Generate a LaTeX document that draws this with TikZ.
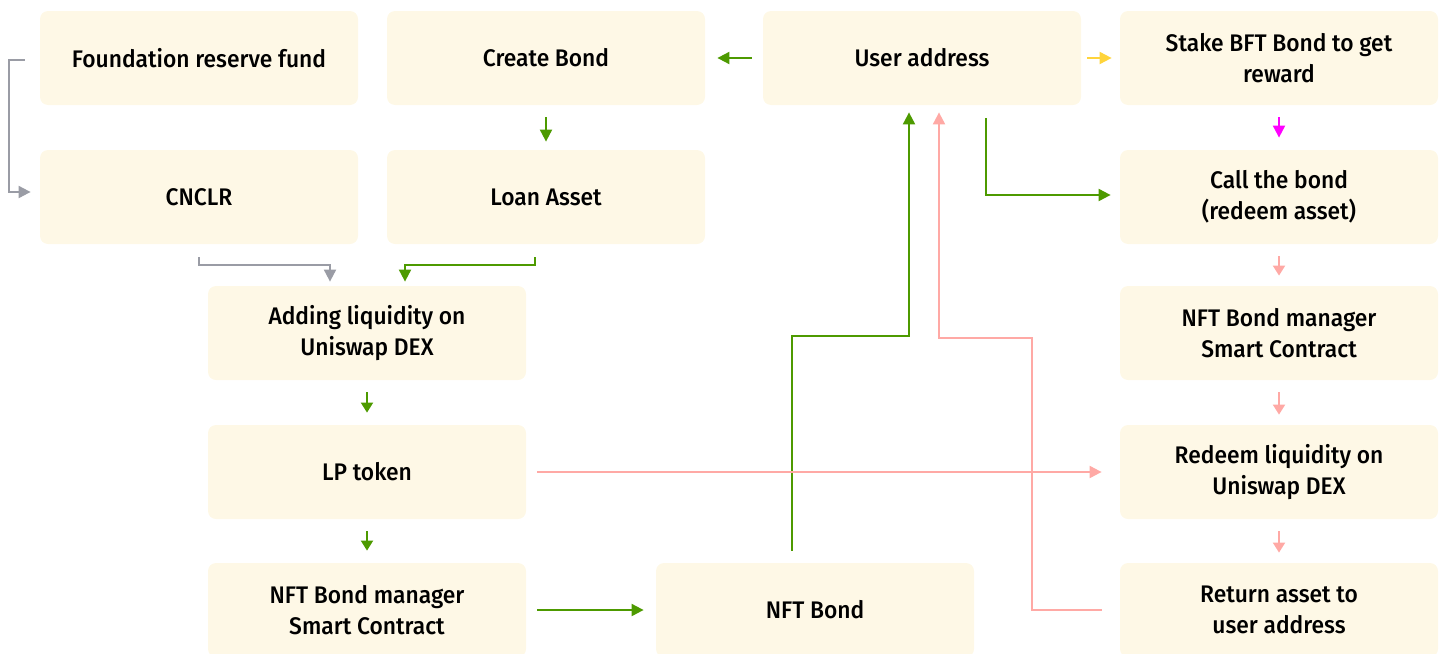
\documentclass[tikz,border=0pt]{standalone}
\usepackage{fontspec}
\setmainfont{Fira Sans}[FakeStretch=0.95,BoldFont={Fira Sans Medium}]
\usetikzlibrary{arrows.meta}
\definecolor{boxfill}{HTML}{FEF8E6}
\definecolor{flowgreen}{HTML}{4D9A00}
\definecolor{flowgray}{HTML}{9A9CA5}
\definecolor{flowpink}{HTML}{FFA9A5}
\definecolor{flowyellow}{HTML}{FFD43B}
\definecolor{flowmagenta}{HTML}{FF00FF}
\begin{document}
\begin{tikzpicture}[x=0.5pt,y=-0.5pt,
                    box/.style={fill=boxfill,rounded corners=4pt,minimum width=159pt,minimum height=47pt,
                                inner sep=0pt,align=center,font=\bfseries\fontsize{12}{15.5}\selectfont},
                    conn/.style={line width=1pt,-{Triangle[length=6pt,width=6pt]}},
                    shortconn/.style={line width=1pt,-{Triangle[length=5pt,width=6pt]}}]
                    \useasboundingbox (0,0) rectangle (1444,653);
                    \node[box] (fund) at (199,58) {Foundation reserve fund};
                    \node[box] (create) at (546,58) {Create Bond};
                    \node[box] (user) at (922,58) {User address};
                    \node[box] (stake) at (1279,58) {Stake BFT Bond to get\\reward};
                    \node[box] (cnclr) at (199,197) {CNCLR};
                    \node[box] (loan) at (546,197) {Loan Asset};
                    \node[box] (call) at (1279,197) {Call the bond\\(redeem asset)};
                    \node[box] (adding) at (367,333) {Adding liquidity on\\Uniswap DEX};
                    \node[box] (mgrR) at (1279,333) {NFT Bond manager\\Smart Contract};
                    \node[box] (lp) at (367,472) {LP token};
                    \node[box] (redeem) at (1279,472) {Redeem liquidity on\\Uniswap DEX};
                    \node[box] (mgrL) at (367,610) {NFT Bond manager\\Smart Contract};
                    \node[box] (bond) at (815,610) {NFT Bond};
                    \node[box] (ret) at (1279,610) {Return asset to\\user address};
                    \draw[conn,flowgray] ([xshift=-7.5pt,yshift=-1pt]fund.west) -- ++(-16,0) |- ([xshift=-4.5pt,yshift=2.5pt]cnclr.west);
                    \draw[conn,flowgray] ([yshift=-6.5pt]cnclr.south) -- ++(0,8) -| ([xshift=-18.5pt,yshift=2pt]adding.north);
                    \draw[conn,flowgreen] ([xshift=-5.5pt,yshift=-6.5pt]loan.south) -- ++(0,8) -| ([xshift=19pt,yshift=2pt]adding.north);
                    \draw[conn,flowgreen] ([yshift=-6pt]create.south) -- ([yshift=4pt]loan.north);
                    \draw[conn,flowgreen] ([xshift=-5.5pt]user.west) -- ([xshift=6pt]create.east);
                    \draw[conn,flowyellow] ([xshift=3pt]user.east) -- ([xshift=-4pt]stake.west);
                    \draw[conn,flowmagenta] ([yshift=-6pt]stake.south) -- ([yshift=6pt]call.north);
                    \draw[shortconn,flowpink] ([yshift=-6pt]call.south) -- ([yshift=5pt]mgrR.north);
                    \draw[shortconn,flowpink] ([yshift=-6pt]mgrR.south) -- ([yshift=5pt]redeem.north);
                    \draw[shortconn,flowpink] ([yshift=-6pt]redeem.south) -- ([yshift=5pt]ret.north);
                    \draw[conn,flowgreen] ([xshift=32pt,yshift=-6.5pt]user.south) |- ([xshift=-4.5pt,yshift=1pt]call.west);
                    \draw[conn,flowgreen] ([xshift=-11.5pt,yshift=6pt]bond.north) -- ++(0,-215) -| ([xshift=-6.5pt,yshift=-3.5pt]user.south);
                    \draw[conn,flowpink] ([xshift=-9pt]ret.west) -- ++(-70,0) -- ++(0,-272) -| ([xshift=8.5pt,yshift=-3.5pt]user.south);
                    \draw[conn,flowpink] ([xshift=5.5pt]lp.east) -- ([xshift=-9pt]redeem.west);
                    \draw[shortconn,flowgreen] ([yshift=-6pt]adding.south) -- ([yshift=6pt]lp.north);
                    \draw[shortconn,flowgreen] ([yshift=-6pt]lp.south) -- ([yshift=6pt]mgrL.north);
                    \draw[conn,flowgreen] ([xshift=5.5pt]mgrL.east) -- ([xshift=-6pt]bond.west);
                \end{tikzpicture}
\end{document}
